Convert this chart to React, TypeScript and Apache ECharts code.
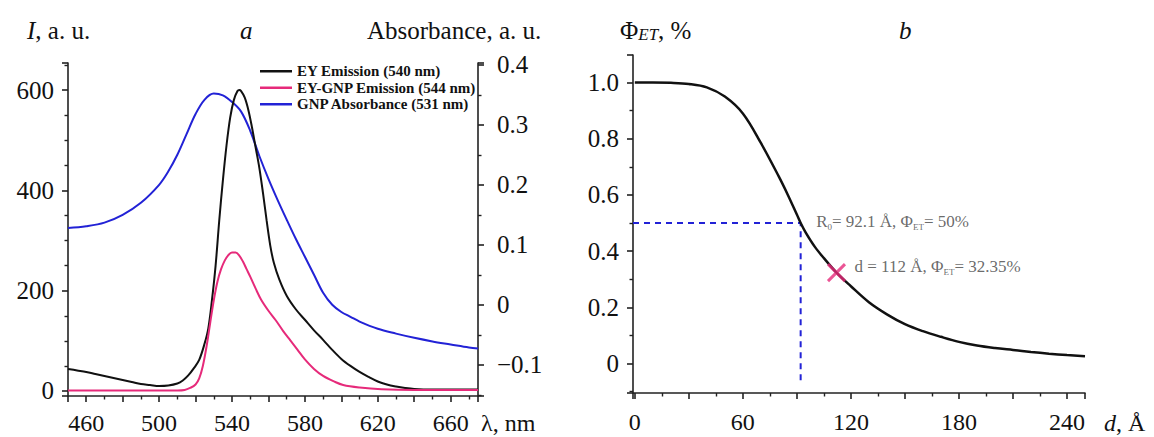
import React, { useEffect, useRef } from "react";
import * as echarts from "echarts";

const SERIF = "'Liberation Serif', 'Times New Roman', serif";

// ---------- Panel a data ----------
const eyWavelength = [450, 455, 460, 465, 470, 475, 480, 485, 490, 495, 500, 505, 510, 513, 516, 519, 522, 525, 527, 529, 531, 533, 535, 537, 539, 541, 543, 544, 545, 547, 549, 551, 553, 555, 557, 559, 561, 563, 566, 570, 575, 580, 585, 590, 595, 600, 605, 610, 615, 620, 625, 630, 635, 640, 650, 660, 675];
const eyEmission = [44, 41, 38, 34, 30, 26, 22, 18, 14, 12, 10, 11, 15, 21, 31, 45, 62, 95, 125, 181, 250, 340, 420, 490, 545, 580, 598, 600, 598, 585, 560, 525, 485, 445, 395, 340, 290, 255, 222, 190, 163, 142, 121, 102, 82, 64, 50, 38, 28, 19, 13, 9, 6, 4, 3, 3, 3];

const eyGnpWavelength = [450, 480, 510, 514, 517, 520, 522, 524, 526, 528, 530, 532, 534, 536, 538, 540, 542, 544, 546, 548, 550, 553, 556, 560, 564, 568, 572, 576, 580, 585, 590, 596, 601, 610, 622, 640, 675];
const eyGnpEmission = [1, 1, 1, 2, 6, 13, 25, 50, 88, 135, 181, 218, 243, 260, 271, 276, 276, 270, 258, 243, 228, 204, 182, 160, 141, 120, 101, 82, 63, 44, 30, 19, 12, 7, 3.5, 2, 2];

const absWavelength = [450, 460, 470, 480, 490, 500, 505, 510, 515, 520, 525, 530, 535, 540, 545, 550, 555, 560, 565, 570, 575, 580, 585, 590, 595, 600, 605, 610, 620, 630, 640, 650, 660, 670, 675];
const gnpAbsorbance = [0.128, 0.131, 0.137, 0.15, 0.17, 0.2, 0.222, 0.25, 0.284, 0.318, 0.342, 0.352, 0.349, 0.338, 0.322, 0.29, 0.248, 0.21, 0.175, 0.142, 0.11, 0.08, 0.05, 0.02, 0.0, -0.012, -0.02, -0.028, -0.04, -0.048, -0.055, -0.061, -0.066, -0.071, -0.073];

const legendNames = ["EY Emission (540 nm)", "EY-GNP Emission (544 nm)", "GNP Absorbance (531 nm)"];

// ---------- Panel b data ----------
const distance = [0, 10, 20, 30, 40, 50, 60, 70, 80, 85, 90, 92.1, 95, 100, 105, 112, 120, 130, 140, 150, 160, 170, 180, 190, 200, 210, 220, 230, 240, 250];
const phiET = [1.0, 1.0, 0.999, 0.995, 0.983, 0.95, 0.89, 0.785, 0.665, 0.6, 0.53, 0.5, 0.465, 0.415, 0.375, 0.3235, 0.275, 0.218, 0.175, 0.14, 0.115, 0.095, 0.077, 0.064, 0.055, 0.048, 0.041, 0.035, 0.03, 0.026];

const R0 = 92.1;
const phiR0 = 0.5;
const dMark = 112;
const phiMark = 0.3235;
const dashStartD = -1;
const dashEndPhi = -0.07;

const BLACK = "#111111";
const PINK = "#e62a7a";
const BLUE = "#2222d6";
const AXIS = "#222222";

const axisBase = (minorSplit: number) => ({
  axisLine: { show: true, onZero: false, lineStyle: { color: AXIS, width: 1.6 } },
  axisTick: { show: true, inside: false, length: 6, lineStyle: { color: AXIS, width: 1.6 } },
  minorTick: { show: true, splitNumber: minorSplit, length: 3.5, lineStyle: { color: AXIS, width: 1.4 } },
  splitLine: { show: false },
  minorSplitLine: { show: false },
});

const labelStyle = { fontFamily: SERIF, fontSize: 25, color: "#111" };
const bottomLabelStyle = { fontFamily: SERIF, fontSize: 24, color: "#111" };

const fmtXA = (v: number) => (Number.isInteger(v) && v >= 460 && (v - 460) % 40 === 0 ? String(v) : "");
const fmtYA = (v: number) => (Number.isInteger(v) && v >= 0 && v % 200 === 0 ? String(v) : "");
const fmtYA2 = (v: number) => {
  const r = Math.round(v * 10);
  if (Math.abs(v * 10 - r) > 1e-6) return "";
  if (r === 0) return "0";
  return (r < 0 ? "\u2212" : "") + (Math.abs(r) / 10).toFixed(1);
};
const fmtXB = (v: number) => (Number.isInteger(v) && v >= 0 && v % 60 === 0 ? String(v) : "");
const fmtYB = (v: number) => {
  const r = Math.round(v * 10);
  if (Math.abs(v * 10 - r) > 1e-6 || r < 0 || r % 2 !== 0) return "";
  return r === 0 ? "0" : (r / 10).toFixed(1);
};

const pair = (xs: number[], ys: number[]) => xs.map((x, i) => [x, ys[i]]);

const annRich = {
  sub: { fontSize: 9, lineHeight: 10, verticalAlign: "bottom", fontFamily: SERIF, color: "#444" },
};

export default function App() {
  const ref = useRef<HTMLDivElement>(null);
  useEffect(() => {
    if (!ref.current) return;
    const chart = echarts.init(ref.current, undefined, { renderer: "svg" });
    const titleStyle = (text: string, size = 25, extraRich: any = {}) => ({
      text,
      fontFamily: SERIF,
      fontSize: size,
      fill: "#111",
      verticalAlign: "middle",
      align: "left",
      rich: {
        i: { fontStyle: "italic", fontFamily: SERIF, fontSize: size, fill: "#111" },
        ...extraRich,
      },
    });
    chart.setOption({
      animation: false,
      backgroundColor: "#ffffff",
      grid: [
        { left: 68, top: 63, width: 410, height: 333 },
        { left: 633, top: 55, width: 452, height: 338 },
      ],
      xAxis: [
        {
          type: "value", gridIndex: 0, min: 450, max: 675, splitNumber: 10,
          ...axisBase(2),
          axisLabel: { ...bottomLabelStyle, margin: 15, formatter: fmtXA },
        },
        {
          type: "value", gridIndex: 1, min: -1, max: 250, splitNumber: 8,
          ...axisBase(2),
          axisLabel: { ...bottomLabelStyle, margin: 17, formatter: fmtXB },
        },
      ],
      yAxis: [
        {
          type: "value", gridIndex: 0, min: -10, max: 654, splitNumber: 3,
          ...axisBase(4),
          axisLabel: { ...labelStyle, margin: 14, formatter: fmtYA },
        },
        {
          type: "value", gridIndex: 0, position: "right", min: -0.152, max: 0.403, splitNumber: 5,
          ...axisBase(2),
          axisLabel: { ...labelStyle, margin: 19, formatter: fmtYA2 },
        },
        {
          type: "value", gridIndex: 1, min: -0.105, max: 1.098, splitNumber: 6,
          ...axisBase(2),
          axisLabel: { ...labelStyle, margin: 14, formatter: fmtYB },
        },
      ],
      legend: {
        data: legendNames,
        orient: "vertical",
        left: 255,
        top: 58,
        icon: "rect",
        itemWidth: 32,
        itemHeight: 2.5,
        itemGap: 0,
        textStyle: { fontFamily: SERIF, fontSize: 15, fontWeight: "bold", color: "#111", lineHeight: 16.5 },
      },
      series: [
        {
          name: legendNames[0], type: "line", xAxisIndex: 0, yAxisIndex: 0,
          data: pair(eyWavelength, eyEmission), symbol: "none", smooth: 0.35,
          lineStyle: { color: BLACK, width: 2 }, itemStyle: { color: BLACK }, z: 3,
        },
        {
          name: legendNames[1], type: "line", xAxisIndex: 0, yAxisIndex: 0,
          data: pair(eyGnpWavelength, eyGnpEmission), symbol: "none", smooth: 0.35,
          lineStyle: { color: PINK, width: 2 }, itemStyle: { color: PINK }, z: 4,
        },
        {
          name: legendNames[2], type: "line", xAxisIndex: 0, yAxisIndex: 1,
          data: pair(absWavelength, gnpAbsorbance), symbol: "none", smooth: 0.35,
          lineStyle: { color: BLUE, width: 2 }, itemStyle: { color: BLUE }, z: 2,
        },
        {
          name: "phi", type: "line", xAxisIndex: 1, yAxisIndex: 2,
          data: pair(distance, phiET), symbol: "none", smooth: 0.35,
          lineStyle: { color: BLACK, width: 2.5 }, z: 3,
        },
        {
          name: "R0 guide", type: "line", xAxisIndex: 1, yAxisIndex: 2,
          data: [[dashStartD, phiR0], [R0, phiR0], [R0, dashEndPhi]], symbol: "none",
          lineStyle: { color: BLUE, width: 2, type: [6, 5] }, z: 2,
        },
        {
          name: "R0 label", type: "scatter", xAxisIndex: 1, yAxisIndex: 2,
          data: [[R0, phiR0]], symbol: "circle", symbolSize: 1,
          itemStyle: { color: "rgba(0,0,0,0)" },
          label: {
            show: true, position: "right", distance: 15, offset: [0, -2],
            fontFamily: SERIF, fontSize: 17, color: "#444", lineHeight: 20,
            formatter: "R{sub|0}= 92.1 \u00c5, \u03a6{sub|ET}= 50%", rich: annRich,
          },
          z: 5,
        },
        {
          name: "d mark", type: "scatter", xAxisIndex: 1, yAxisIndex: 2,
          data: [[dMark, phiMark]], symbolSize: 17,
          symbol: "path://M0,0L10,10M10,0L0,10",
          itemStyle: { color: PINK, borderColor: PINK, borderWidth: 3 },
          label: {
            show: true, position: "right", distance: 8, offset: [0, -6],
            fontFamily: SERIF, fontSize: 17, color: "#444", lineHeight: 20,
            formatter: "d = 112 \u00c5, \u03a6{sub|ET}= 32.35%", rich: annRich,
          },
          z: 6,
        },
      ],
      graphic: [
        { type: "text", x: 27, y: 30, style: titleStyle("{i|I}, a. u.") },
        { type: "text", x: 240, y: 30, style: titleStyle("{i|a}") },
        { type: "text", x: 367, y: 30, style: titleStyle("Absorbance, a. u.") },
        {
          type: "text", x: 620, y: 30,
          style: titleStyle("\u03a6{s|ET}, %", 25, {
            s: { fontStyle: "italic", fontFamily: SERIF, fontSize: 17, lineHeight: 14, verticalAlign: "bottom", fill: "#111" },
          }),
        },
        { type: "text", x: 899, y: 30, style: titleStyle("{i|b}") },
        { type: "text", x: 481, y: 423, style: titleStyle("\u03bb, nm", 24) },
        { type: "text", x: 1104, y: 423, style: titleStyle("{i|d}, \u00c5", 24) },
      ],
    });
    return () => chart.dispose();
  }, []);
  return <div ref={ref} style={{ position: "fixed", left: 0, top: 0, width: 1154, height: 437 }} />;
}
